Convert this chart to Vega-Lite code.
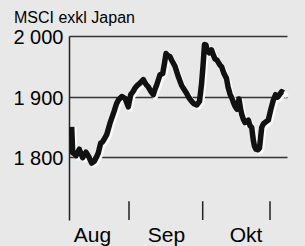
{
  "$schema": "https://vega.github.io/schema/vega-lite/v6.json",
  "width": 218,
  "height": 184,
  "autosize": {"type": "none"},
  "padding": {"left": 69, "top": 36, "right": 18, "bottom": 26},
  "background": "#e8e8e8",
  "config": {
    "view": {"stroke": null},
    "font": "Liberation Sans",
    "axis": {"labelFont": "Liberation Sans", "labelColor": "#000"}
  },
  "title": {
    "text": "MSCI exkl Japan",
    "anchor": "start",
    "frame": "group",
    "dx": -55,
    "dy": 15,
    "fontSize": 16,
    "font": "Liberation Sans",
    "fontWeight": "normal",
    "color": "#000",
    "baseline": "alphabetic",
    "offset": 4
  },
  "datasets": {
    "msci": [
      {"d": 2.7, "v": 1850}, {"d": 3.7, "v": 1807}, {"d": 5.5, "v": 1805}, {"d": 7, "v": 1802},
      {"d": 10.3, "v": 1813}, {"d": 12, "v": 1806}, {"d": 13.7, "v": 1799}, {"d": 17, "v": 1808},
      {"d": 20, "v": 1800}, {"d": 22.7, "v": 1790}, {"d": 25.3, "v": 1793}, {"d": 27.5, "v": 1800},
      {"d": 29.3, "v": 1807}, {"d": 31.7, "v": 1823}, {"d": 33.5, "v": 1825}, {"d": 35, "v": 1829},
      {"d": 37.7, "v": 1837}, {"d": 41, "v": 1856}, {"d": 45, "v": 1875}, {"d": 47.5, "v": 1888},
      {"d": 49.3, "v": 1894}, {"d": 52.7, "v": 1900}, {"d": 56, "v": 1897}, {"d": 59.3, "v": 1883},
      {"d": 61.7, "v": 1903}, {"d": 64, "v": 1908}, {"d": 66, "v": 1914}, {"d": 68, "v": 1918},
      {"d": 71, "v": 1922}, {"d": 74.3, "v": 1928}, {"d": 77, "v": 1920}, {"d": 79.3, "v": 1916},
      {"d": 82, "v": 1908}, {"d": 84.3, "v": 1903}, {"d": 86, "v": 1912}, {"d": 87.7, "v": 1919},
      {"d": 91, "v": 1936}, {"d": 93.7, "v": 1938}, {"d": 95.5, "v": 1955}, {"d": 97, "v": 1971},
      {"d": 99.3, "v": 1967}, {"d": 101, "v": 1966}, {"d": 102.7, "v": 1960}, {"d": 106, "v": 1950},
      {"d": 109.3, "v": 1933}, {"d": 112.7, "v": 1918}, {"d": 115, "v": 1912}, {"d": 117.7, "v": 1905},
      {"d": 120, "v": 1898}, {"d": 122.7, "v": 1892}, {"d": 125, "v": 1888}, {"d": 127.7, "v": 1886},
      {"d": 130.5, "v": 1892}, {"d": 132.5, "v": 1920}, {"d": 134, "v": 1950}, {"d": 135.5, "v": 1986},
      {"d": 137, "v": 1985}, {"d": 138.5, "v": 1975}, {"d": 140.5, "v": 1972}, {"d": 142.5, "v": 1977},
      {"d": 144.5, "v": 1968}, {"d": 146, "v": 1962}, {"d": 148, "v": 1960}, {"d": 149.5, "v": 1956},
      {"d": 151, "v": 1952}, {"d": 152.7, "v": 1949}, {"d": 155, "v": 1938}, {"d": 157.5, "v": 1930},
      {"d": 159, "v": 1916}, {"d": 161, "v": 1904}, {"d": 163, "v": 1897}, {"d": 164.5, "v": 1890},
      {"d": 166, "v": 1884}, {"d": 168, "v": 1879}, {"d": 170, "v": 1896}, {"d": 171.5, "v": 1880},
      {"d": 172.7, "v": 1871}, {"d": 174.5, "v": 1862}, {"d": 176, "v": 1857}, {"d": 179.3, "v": 1861},
      {"d": 181, "v": 1852}, {"d": 182.7, "v": 1849}, {"d": 184.3, "v": 1828}, {"d": 185.5, "v": 1818},
      {"d": 187, "v": 1813}, {"d": 189, "v": 1812}, {"d": 190.5, "v": 1815}, {"d": 192.7, "v": 1849},
      {"d": 194.5, "v": 1855}, {"d": 196, "v": 1857}, {"d": 199.3, "v": 1861}, {"d": 201.7, "v": 1878},
      {"d": 204.3, "v": 1894}, {"d": 206.5, "v": 1903}, {"d": 208.5, "v": 1899}, {"d": 210.5, "v": 1903},
      {"d": 212.7, "v": 1908}, {"d": 214.5, "v": 1906}
    ],
    "ticks": [{"t": 60}, {"t": 133.7}, {"t": 201}]
  },
  "layer": [
    {
      "data": {"name": "ticks"},
      "mark": {"type": "rule", "color": "#222", "strokeWidth": 1.5},
      "encoding": {
        "x": {
          "field": "t",
          "type": "quantitative",
          "scale": {"domain": [0, 218], "nice": false, "zero": false},
          "axis": {
            "values": [23, 97, 176.5],
            "labelExpr": "datum.value < 50 ? 'Aug' : datum.value < 150 ? 'Sep' : 'Okt'",
            "ticks": false,
            "domain": false,
            "grid": false,
            "title": null,
            "labelFontSize": 21,
            "labelBaseline": "alphabetic",
            "labelPadding": 21,
            "labelAlign": "center"
          }
        },
        "y": {
          "datum": 1696,
          "type": "quantitative",
          "scale": {"domain": [1696, 2000], "nice": false, "zero": false},
          "axis": {
            "values": [1800, 1900, 2000],
            "labelExpr": "replace(format(datum.value, ','), ',', ' ')",
            "ticks": false,
            "domain": true,
            "domainColor": "#222",
            "domainWidth": 1.5,
            "grid": true,
            "gridColor": "#333",
            "gridWidth": 1.5,
            "gridOpacity": 1,
            "title": null,
            "labelFontSize": 20,
            "labelPadding": 6,
            "labelOffset": 1.5
          }
        },
        "y2": {"datum": 1727}
      }
    },
    {
      "data": {"name": "msci"},
      "mark": {"type": "line", "color": "#fafafa", "strokeWidth": 5.5, "xOffset": 2, "yOffset": 2, "strokeJoin": "round", "strokeCap": "round"},
      "encoding": {
        "x": {"field": "d", "type": "quantitative"},
        "y": {"field": "v", "type": "quantitative"}
      }
    },
    {
      "data": {"name": "msci"},
      "mark": {"type": "line", "color": "#111", "strokeWidth": 5.5, "strokeJoin": "round", "strokeCap": "butt"},
      "encoding": {
        "x": {"field": "d", "type": "quantitative"},
        "y": {"field": "v", "type": "quantitative"}
      }
    }
  ]
}
